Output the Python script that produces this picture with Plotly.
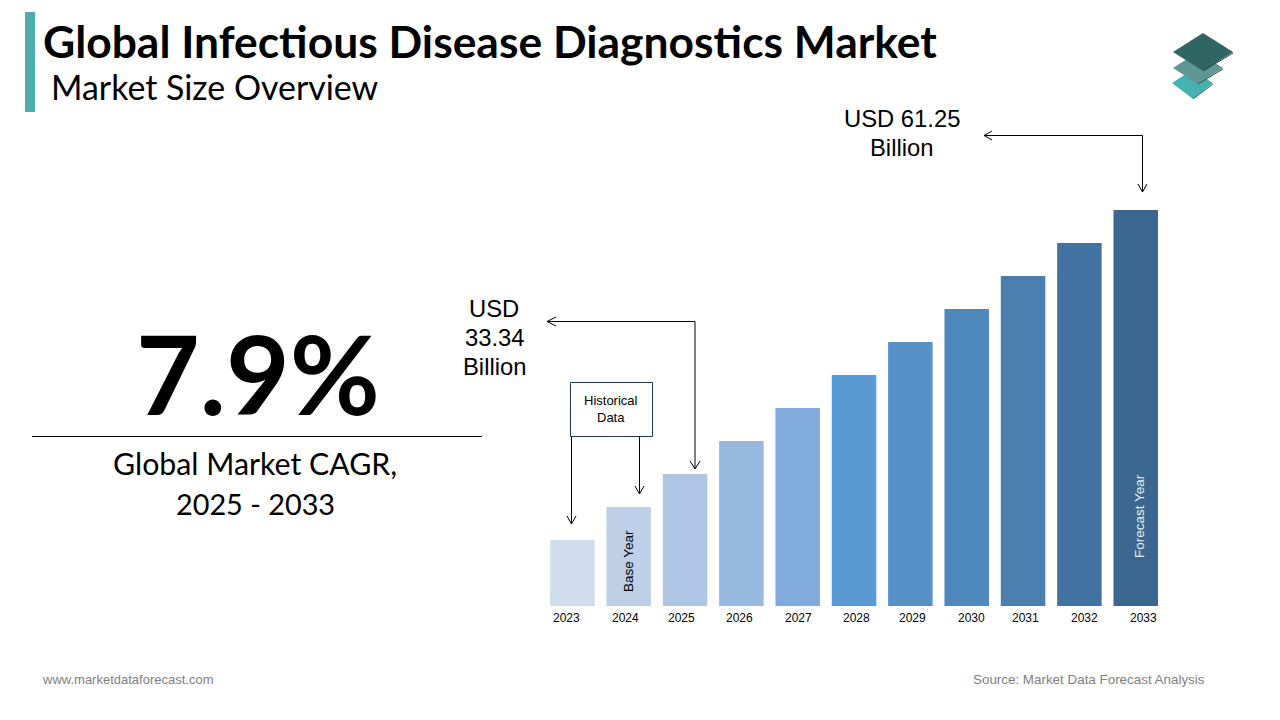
import plotly.graph_objects as go

# values
years = ['2023', '2024', '2025', '2026', '2027', '2028', '2029', '2030', '2031', '2032', '2033']
bar_heights = [1, 1.5, 2, 2.5, 3, 3.5, 4, 4.5, 5, 5.5, 6]
bar_colors = ['#CFDCEE', '#BDD0E8', '#AEC6E3', '#98B9DE', '#7FAAD9', '#5B9BD5',
              '#5791C8', '#4F88BC', '#4A7EAF', '#4373A2', '#3B668F']
# the year labels do not sit exactly under the bars in the original
label_shift = [-6, -4, -4, -2, 0, 2, 2, 4, 2, 5, 7]

W, H = 1280, 720
ARIAL = 'Liberation Sans'
CALIBRI = 'Lato'


def px(x):
    return x / W


def py(y):
    return 1 - y / H


def text(x, y, s, size, color='#000000', font=ARIAL, anchor='center', angle=0):
    return dict(x=px(x), y=py(y), xref='paper', yref='paper', text=s, showarrow=False,
                xanchor=anchor, yanchor='middle', align='center', textangle=angle,
                font=dict(family=font, size=size, color=color))


def line(points, color='#000000', width=1):
    path = 'M ' + ' L '.join(f'{px(a)},{py(b)}' for a, b in points)
    return dict(type='path', path=path, xref='paper', yref='paper',
                line=dict(color=color, width=width))


def poly(points, fill):
    path = 'M ' + ' L '.join(f'{px(a)},{py(b)}' for a, b in points) + ' Z'
    return dict(type='path', path=path, xref='paper', yref='paper',
                fillcolor=fill, line=dict(width=0))


fig = go.Figure(go.Bar(x=years, y=bar_heights, marker=dict(color=bar_colors, line=dict(width=0)),
                       hoverinfo='x'))

shapes = [
    poly([(25, 12), (35, 12), (35, 112), (25, 112)], '#4BADAE'),
    line([(32, 436.5), (482, 436.5)]),
    # callout 2033
    line([(1142.5, 192), (1142.5, 135.5), (984, 135.5)]),
    line([(1138, 184), (1142.5, 192), (1147, 184)]),
    line([(992, 131), (984, 135.5), (992, 140)]),
    # callout 2025
    line([(695, 469), (695, 321.5), (547, 321.5)]),
    line([(690, 461), (695, 469), (700, 461)]),
    line([(556, 317), (547, 321.5), (556, 326)]),
    # historical box
    dict(type='rect', x0=px(570.5), x1=px(652.5), y0=py(382.5), y1=py(436.5),
         xref='paper', yref='paper', line=dict(color='#1F3850', width=1)),
    line([(571.5, 437), (571.5, 524)]),
    line([(567, 516), (571.5, 524), (576, 516)]),
    line([(639.5, 437), (639.5, 494)]),
    line([(635, 486), (639.5, 494), (644, 486)]),
    # logo
    poly([(1172, 83), (1192, 70), (1213, 83), (1193, 99)], '#45B1B0'),
    line([(1193, 99), (1213, 84)], color='#2F6663', width=1),
    poly([(1173, 68), (1198, 52), (1223, 68), (1198, 84)], '#5E9793'),
    line([(1198, 84), (1223, 69)], color='#2F4F4D', width=1),
    poly([(1173, 52), (1203, 33), (1233, 52), (1203, 71)], '#2F6663'),
    line([(1203, 71), (1233, 53)], color='#1F3F3D', width=1),
]

annotations = [
    text(41, 40, '<b>Global Infectious Disease Diagnostics Market</b>', 44.4, font=CALIBRI, anchor='left'),
    text(49, 87, 'Market Size Overview', 33.9, font=CALIBRI, anchor='left'),
    text(258, 372, '<b>7.9%</b>', 110, font=CALIBRI),
    text(255, 463, 'Global Market CAGR,', 30.3, font=CALIBRI),
    text(255, 504, '2025 - 2033', 28.8, font=CALIBRI),
    text(902, 119, 'USD 61.25', 23.8),
    text(902, 148, 'Billion', 23.8),
    text(494, 308, 'USD', 23.8),
    text(494.5, 337, '33.34', 23.8),
    text(494.5, 366, 'Billion', 23.8),
    text(611, 408.5, 'Historical<br>Data', 13),
    text(628, 561, 'Base Year', 13.5, angle=-90),
    text(1139, 516, 'Forecast Year', 13.5, color='#E8EEF5', angle=-90),
    text(40, 679, 'www.marketdataforecast.com', 13, color='#808080', anchor='left'),
    text(1207, 679, 'Source: Market Data Forecast Analysis', 13.4, color='#808080', anchor='right'),
]
for i, (yr, shift) in enumerate(zip(years, label_shift)):
    annotations.append(dict(x=i, y=py(618), xref='x', yref='paper', text=yr, showarrow=False,
                            xshift=shift + 0.5, xanchor='center', yanchor='middle',
                            font=dict(family=ARIAL, size=12, color='#000000')))

fig.update_layout(
    width=W, height=H,
    margin=dict(l=0, r=0, t=0, b=0),
    paper_bgcolor='white', plot_bgcolor='white',
    bargap=0.21,
    showlegend=False,
    xaxis=dict(domain=[px(544.2), px(1163.9)], type='category', range=[-0.5, 10.5],
               showticklabels=False, showgrid=False, zeroline=False, showline=False, ticks=''),
    yaxis=dict(domain=[py(606), py(210)], range=[0, 6], showticklabels=False,
               showgrid=False, zeroline=False, showline=False, ticks=''),
    shapes=shapes,
    annotations=annotations,
)

fig.write_html('out.html', config=dict(displayModeBar=False),
               post_script="document.body.style.margin='0';")
